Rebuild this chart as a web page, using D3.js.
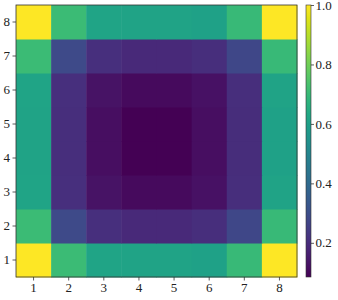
<!DOCTYPE html>
<html><head><meta charset="utf-8">
<script src="https://cdn.jsdelivr.net/npm/d3@7"></script>
<style>body{margin:0;background:#fff}text{font-family:"Liberation Serif","DejaVu Serif",serif}</style>
</head><body><svg id="c" width="338" height="300"></svg>
<script>
const xLabels = ["1","2","3","4","5","6","7","8"];
const yLabels = ["1","2","3","4","5","6","7","8"];
// rows listed from y=1 (bottom) to y=8 (top)
const row1 = [1.0, 0.71, 0.62, 0.615, 0.615, 0.61, 0.70, 1.0];
const row2 = [0.71, 0.29, 0.21, 0.19, 0.19, 0.205, 0.28, 0.70];
const row3 = [0.62, 0.21, 0.13, 0.11, 0.11, 0.125, 0.205, 0.615];
const row4 = [0.615, 0.205, 0.12, 0.085, 0.085, 0.12, 0.20, 0.61];
const row5 = [0.615, 0.205, 0.12, 0.085, 0.085, 0.12, 0.20, 0.61];
const row6 = [0.62, 0.21, 0.13, 0.11, 0.11, 0.125, 0.205, 0.615];
const row7 = [0.71, 0.29, 0.21, 0.19, 0.19, 0.205, 0.28, 0.70];
const row8 = [1.0, 0.71, 0.62, 0.615, 0.615, 0.61, 0.70, 1.0];
const rows = [row1,row2,row3,row4,row5,row6,row7,row8];
const cbTicks = [0.2,0.4,0.6,0.8,1.0];
const vmin = 0.085, vmax = 1.0;

const svg = d3.select("#c");
const L=16, R=297, T=5, B=277;
const x = d3.scaleBand().domain(xLabels).range([L,R]).padding(0);
const y = d3.scaleBand().domain(yLabels).range([B,T]).padding(0);
const color = d3.scaleSequential(d3.interpolateViridis).domain([vmin,vmax]);

const cells = [];
rows.forEach((r,i)=>r.forEach((v,j)=>cells.push({x:xLabels[j],y:yLabels[i],v})));
svg.append("g").selectAll("rect").data(cells).join("rect")
  .attr("x",d=>x(d.x)).attr("y",d=>y(d.y))
  .attr("width",x.bandwidth()+0.5).attr("height",y.bandwidth()+0.5)
  .attr("fill",d=>color(d.v));
svg.append("rect").attr("x",L).attr("y",T).attr("width",R-L).attr("height",B-T)
  .attr("fill","none").attr("stroke","#333").attr("stroke-width",0.8);

const gx = svg.append("g").attr("transform",`translate(0,${B})`)
  .call(d3.axisBottom(x).tickSize(3.5).tickPadding(2.5));
const gy = svg.append("g").attr("transform",`translate(${L},0)`)
  .call(d3.axisLeft(y).tickSize(3.5).tickPadding(2.5));
[gx,gy].forEach(g=>{g.select(".domain").remove();
  g.selectAll("line").attr("stroke","#333").attr("stroke-width",0.8);
  g.selectAll("text").attr("font-size",13).attr("fill","#222")
   .style("font-family",'"Liberation Serif",serif');});

// colorbar
const cx0=306, cw=5;
const cy = d3.scaleLinear().domain([vmin,vmax]).range([B,T]);
const defs = svg.append("defs");
const grad = defs.append("linearGradient").attr("id","g").attr("x1","0").attr("y1","1").attr("x2","0").attr("y2","0");
d3.range(0,1.0001,0.05).forEach(t=>grad.append("stop").attr("offset",t).attr("stop-color",d3.interpolateViridis(t)));
svg.append("rect").attr("x",cx0).attr("y",T).attr("width",cw).attr("height",B-T).attr("fill","url(#g)")
  .attr("stroke","#333").attr("stroke-width",0.6);
const gc = svg.append("g").attr("transform",`translate(${cx0+cw},0)`)
  .call(d3.axisRight(cy).tickValues(cbTicks).tickFormat(d3.format(".1f")).tickSize(3).tickPadding(1.5));
gc.select(".domain").remove();
gc.selectAll("line").attr("stroke","#333").attr("stroke-width",0.8);
gc.selectAll("text").attr("font-size",13).attr("fill","#222").style("font-family",'"Liberation Serif",serif');
</script></body></html>
